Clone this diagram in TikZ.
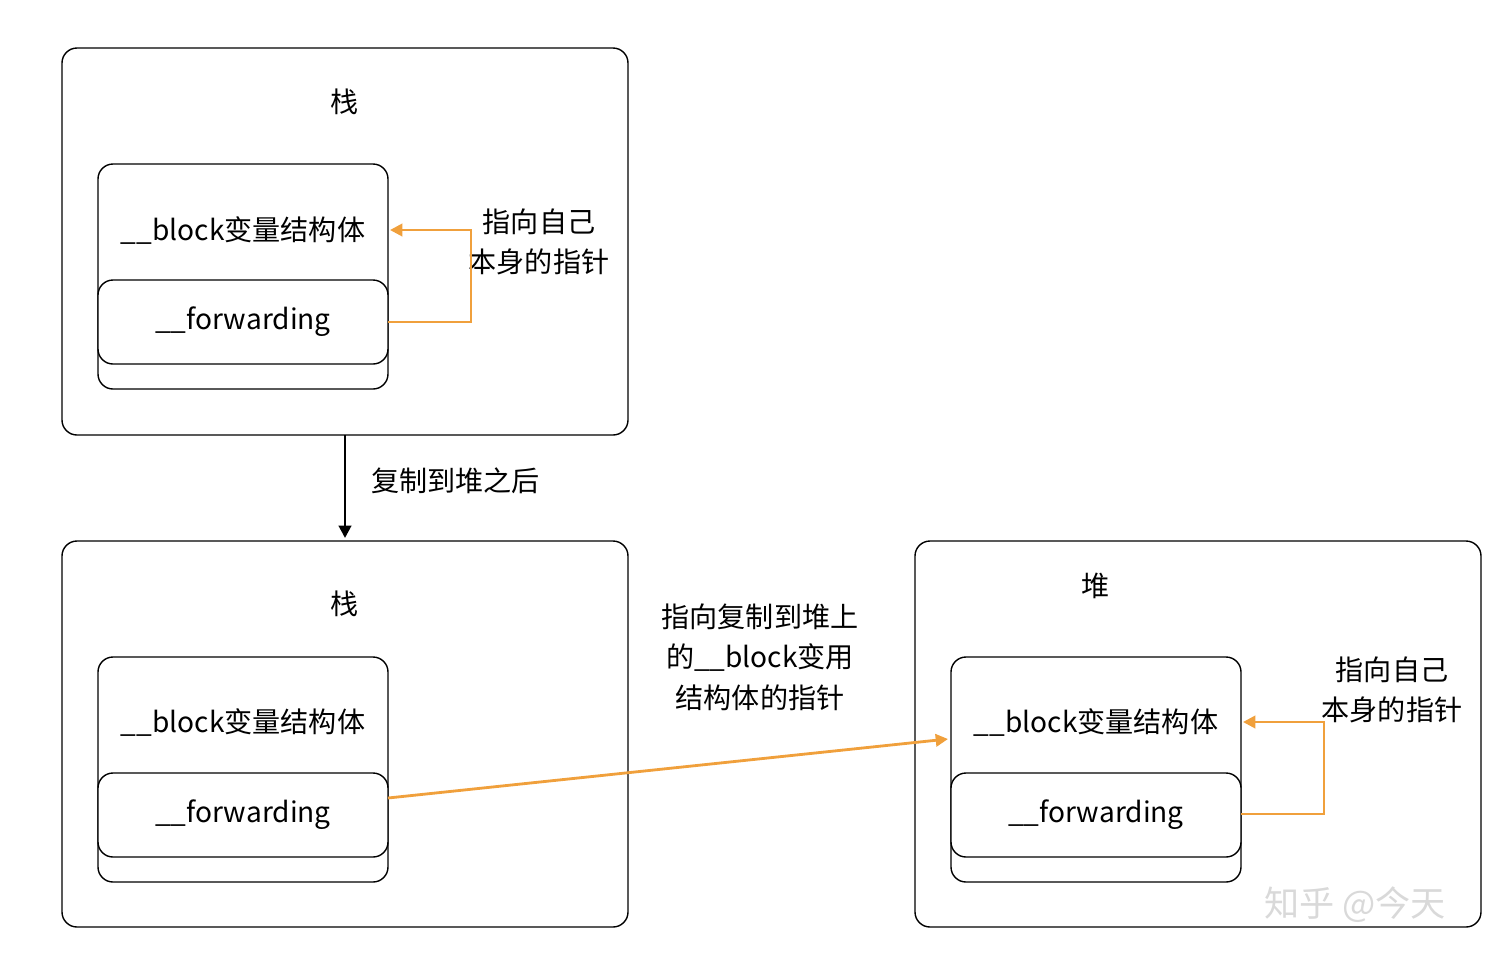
\documentclass[tikz,border=0pt]{standalone}
\usepackage{fontspec}
\setmainfont{Noto Sans CJK SC}
\usetikzlibrary{arrows.meta}
\definecolor{ptrorange}{RGB}{240,160,60}
\tikzset{
	box/.style={draw=black, rounded corners=0.3cm, line width=0.8pt},
	lbl/.style={font=\fontsize{16}{23}\selectfont, align=center},
	ptr/.style={draw=ptrorange, line width=1.6pt, -{Triangle[length=7pt,width=7pt]}},
}
\begin{document}
\begin{tikzpicture}[x=0.02cm, y=-0.02cm]
	\useasboundingbox (0,0) rectangle (1512,968);

	% top stack
	\draw[box] (62,48) rectangle (628,435);
	\node[lbl] (t1) at (345,102) {栈};
	\draw[box, fill=white] (98,164) rectangle (388,389);
	\draw[box, fill=white] (98,280) rectangle (388,364);
	\node[lbl] (b1) at (243,231) {\_\_block变量结构体};
	\node[lbl] (f1) at (243,322) {\_\_forwarding};
	\coordinate (f1r) at (388,322);
	\coordinate (b1r) at (390,230);
	\node[lbl] (s1) at (539,242) {指向自己\\本身的指针};
	\draw[ptr] (f1r) -- (471,322) -- (471,230) -- (b1r);

	% copy arrow
	\coordinate (c1) at (345,435);
	\coordinate (c2) at (345,538);
	\draw[line width=1.6pt, -{Triangle[length=7pt,width=7pt]}] (c1) -- (c2);
	\node[lbl, anchor=west] (cp) at (365,481) {复制到堆之后};

	% bottom stack
	\draw[box] (62,541) rectangle (628,927);
	\node[lbl] (t2) at (345,604) {栈};
	\draw[box, fill=white] (98,657) rectangle (388,882);
	\draw[box, fill=white] (98,773) rectangle (388,857);
	\node[lbl] (b2) at (243,723) {\_\_block变量结构体};
	\node[lbl] (f2) at (243,815) {\_\_forwarding};

	% heap
	\draw[box] (915,541) rectangle (1481,927);
	\node[lbl] (t3) at (1096,586) {堆};
	\draw[box, fill=white] (951,657) rectangle (1241,882);
	\draw[box, fill=white] (951,773) rectangle (1241,857);
	\node[lbl] (b3) at (1096,723) {\_\_block变量结构体};
	\node[lbl] (f3) at (1096,815) {\_\_forwarding};
	\node[lbl] (s3) at (1392,690) {指向自己\\本身的指针};
	\coordinate (f3r) at (1241,814);
	\coordinate (b3r) at (1243,722);
	\draw[ptr] (f3r) -- (1324,814) -- (1324,722) -- (b3r);

	% cross pointer
	\coordinate (f2r) at (388,798);
	\coordinate (b3l) at (948,739);
	\draw[ptr] (f2r) -- (b3l);
	\node[lbl] (cx) at (760,657) {指向复制到堆上\\的\_\_block变用\\结构体的指针};

	\node[lbl, text=black!15, font=\fontsize{20}{24}\selectfont] (wm) at (1355,905) {知乎 @今天};
\end{tikzpicture}
\end{document}
